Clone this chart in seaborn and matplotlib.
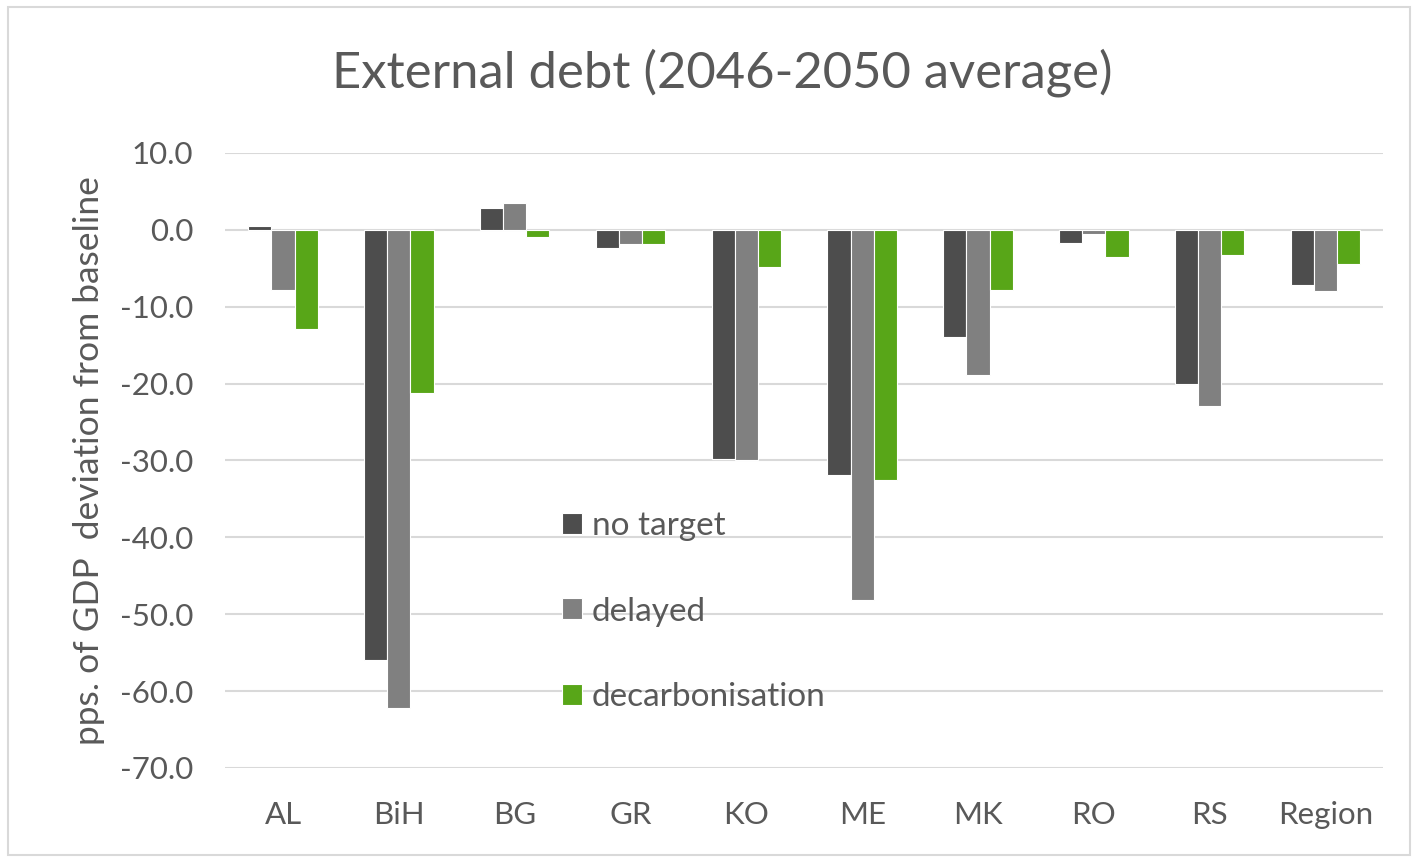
import matplotlib
matplotlib.use("Agg")
import matplotlib.pyplot as plt
from matplotlib.patches import Rectangle
import seaborn as sns
import pandas as pd

# Countries / aggregates on the x axis
categories = ["AL", "BiH", "BG", "GR", "KO", "ME", "MK", "RO", "RS", "Region"]
scenarios = ["no target", "delayed", "decarbonisation"]

# External debt, 2046-2050 average, pps. of GDP deviation from baseline
no_target = [0.5, -56.0, 2.8, -2.3, -29.8, -31.9, -13.9, -1.7, -20.1, -7.2]
delayed = [-7.8, -62.2, 3.5, -1.8, -29.9, -48.2, -18.9, -0.5, -22.9, -8.0]
decarbonisation = [-12.9, -21.2, -0.9, -1.8, -4.8, -32.5, -7.8, -3.5, -3.3, -4.4]

colors = ["#4d4d4d", "#808080", "#58a618"]
text_color = "#595959"

df = pd.DataFrame({
    "country": categories * 3,
    "scenario": [s for s in scenarios for _ in categories],
    "value": no_target + delayed + decarbonisation,
})

sns.set_theme(style="white")
plt.rcParams["font.family"] = ["Lato", "DejaVu Sans"]

fig = plt.figure(figsize=(14.16, 8.58), dpi=100)
ax = fig.add_axes([0.159, 0.1049, 0.818, 0.7168])

sns.barplot(data=df, x="country", y="value", hue="scenario",
            order=categories, hue_order=scenarios, palette=colors,
            width=0.6, edgecolor="white", linewidth=0.8, ax=ax,
            saturation=1, errorbar=None, zorder=3)

ax.set_ylim(-70, 10)
ax.set_yticks(range(-70, 11, 10))
ax.set_yticklabels([f"{v:.1f}" for v in range(-70, 11, 10)])
ax.set_xlim(-0.5, len(categories) - 0.5)
ax.yaxis.grid(True, color="#d9d9d9", linewidth=1.5, zorder=0)
ax.set_axisbelow(True)
for sp in ax.spines.values():
    sp.set_visible(False)
ax.tick_params(axis="both", length=0, labelsize=22.5, colors=text_color)
ax.tick_params(axis="x", pad=24)
ax.tick_params(axis="y", pad=23)
ax.set_xlabel("")
ax.set_ylabel("pps. of GDP  deviation from baseline", fontsize=25.5,
              color=text_color, labelpad=11)

fig.suptitle("External debt (2046-2050 average)", fontsize=36.5,
             color=text_color, x=0.51, y=0.915, va="center")

leg = ax.legend(loc="upper left", bbox_to_anchor=(0.2765, 0.445), frameon=False,
                fontsize=24, labelspacing=1.67, handlelength=0.6,
                handleheight=0.6, handletextpad=0.3, borderpad=0)
for t in leg.get_texts():
    t.set_color(text_color)

# Light chart-area border
fig.patches.append(Rectangle((0.006, 0.004), 0.99, 0.988, transform=fig.transFigure,
                             fill=False, edgecolor="#d9d9d9", linewidth=1.5))

fig.savefig("out.png", dpi=100)
